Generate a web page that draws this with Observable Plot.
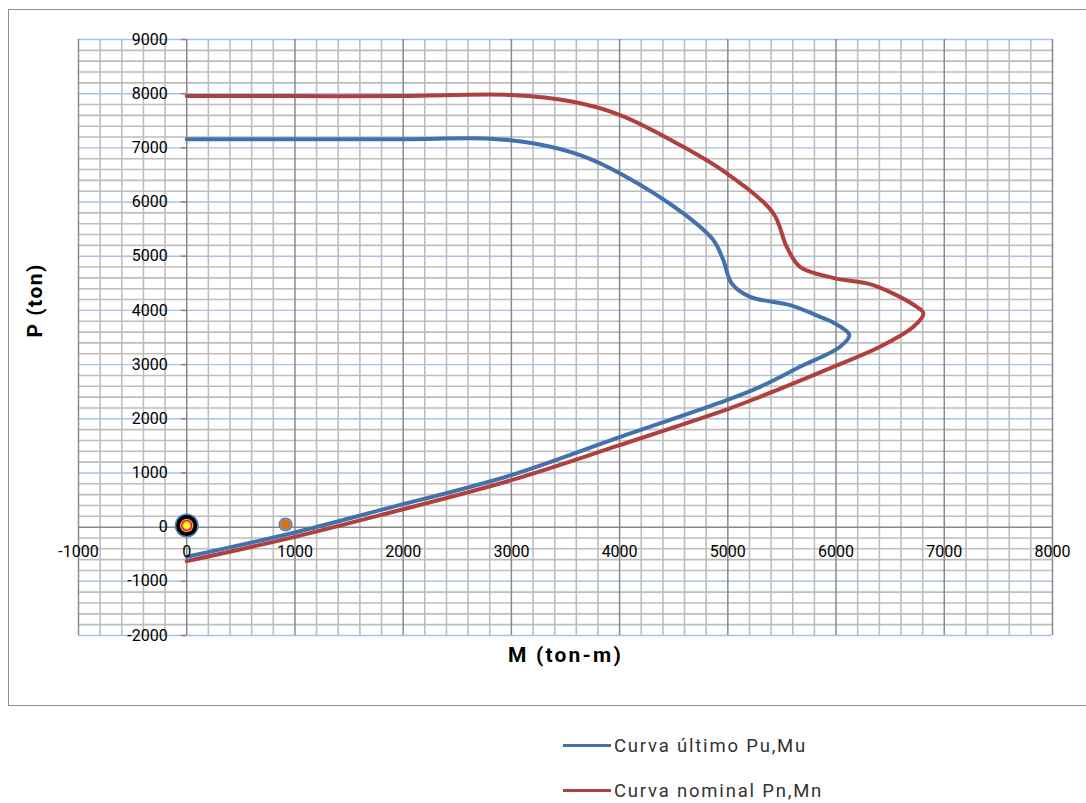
<!DOCTYPE html>
<html>
<head>
<meta charset="utf-8">
<script src="https://cdn.jsdelivr.net/npm/d3@7"></script>
<script src="https://cdn.jsdelivr.net/npm/@observablehq/plot@0.6"></script>
<style>
  html, body { margin: 0; padding: 0; background: #fff; overflow: hidden; }
  #wrap { position: relative; width: 1086px; height: 803px; font-family: "Roboto", sans-serif; }
  #border { position: absolute; left: 8px; top: 9px; width: 1100px; height: 697px; border: 1.5px solid #8e8e8e; box-sizing: border-box; pointer-events: none; }
  #chart { position: absolute; left: 0; top: 0; }
  #legend { position: absolute; left: 563px; top: 723px; }
  .item { display: flex; align-items: center; height: 45px; }
  .swatch { width: 48px; height: 3px; margin-right: 3px; }
  .label { font-size: 18.5px; color: #333; letter-spacing: 1.8px; white-space: nowrap; }
</style>
</head>
<body>
<div id="wrap">
  <div id="border"></div>
  <div id="chart"></div>
  <div id="legend"></div>
</div>
<script>
// ---- data ----
const seriesNames = ["Curva último Pu,Mu", "Curva nominal Pn,Mn"];
const seriesColors = ["#4271ab", "#b0403d"];

// Curva último (Mu, Pu)
const ultimoM = [0, 1000, 2000, 2800, 3200, 3635, 4005, 4589, 4866, 4958, 5036, 5206, 5575, 5852, 6006, 6123, 6037, 5667, 5297, 4990, 4000, 3000, 1787, 1000, 0];
const ultimoP = [7160, 7160, 7160, 7170, 7085, 6866, 6528, 5790, 5297, 4928, 4498, 4251, 4097, 3881, 3740, 3544, 3328, 2959, 2590, 2344, 1661, 960, 314, -98, -548];

// Curva nominal (Mn, Pn)
const nominalM = [0, 1000, 2000, 2990, 3570, 4005, 4560, 4990, 5419, 5544, 5667, 5973, 6343, 6745, 6807, 6714, 6406, 5975, 5297, 5000, 4000, 3000, 1787, 1000, 0];
const nominalP = [7955, 7955, 7955, 7975, 7850, 7604, 7050, 6528, 5795, 5173, 4804, 4600, 4467, 4066, 3944, 3697, 3328, 2959, 2405, 2178, 1513, 867, 221, -179, -628];

// load points (M, P)
const loadM = [0, 913];
const loadP = [30, 50];

const xTicks = [-1000, 0, 1000, 2000, 3000, 4000, 5000, 6000, 7000, 8000];
const yTicks = [-2000, -1000, 0, 1000, 2000, 3000, 4000, 5000, 6000, 7000, 8000, 9000];
const minorStep = 200;

// ---- build ----
const ultimo = ultimoM.map((m, i) => ({M: m, P: ultimoP[i]}));
const nominal = nominalM.map((m, i) => ({M: m, P: nominalP[i]}));
const loads = loadM.map((m, i) => ({M: m, P: loadP[i]}));
const xMinor = d3.range(-1000, 8000 + 1, minorStep).filter(v => v % 1000 !== 0);
const yMinor = d3.range(-2000, 9000 + 1, minorStep).filter(v => v % 1000 !== 0);
const xMajor = xTicks.filter(v => v !== 0);
const yMajor = yTicks.filter(v => v !== 0);
const font = '"Roboto", sans-serif';

const chart = Plot.plot({
  width: 1086,
  height: 710,
  marginLeft: 78,
  marginRight: 34,
  marginTop: 39,
  marginBottom: 75,
  x: {domain: [-1000, 8000], axis: null},
  y: {domain: [-2000, 9000], axis: null},
  style: {fontFamily: font, background: "transparent"},
  marks: [
    Plot.ruleX(xMinor, {x: d => d, y1: -2000, y2: 9000, stroke: "#bdbdbd", strokeWidth: 1.6}),
    Plot.ruleY(yMinor, {y: d => d, x1: -1000, x2: 8000, stroke: "#bdbdbd", strokeWidth: 1.6}),
    Plot.ruleY(yMajor, {y: d => d, x1: -1000, x2: 8000, stroke: "#a8c1e8", strokeWidth: 1.4}),
    Plot.ruleX(xMajor, {x: d => d, y1: -2000, y2: 9000, stroke: "#8a8a8a", strokeWidth: 1.5}),
    Plot.ruleY([0], {x1: -1000, x2: 8000, stroke: "#878787", strokeWidth: 1.5}),
    Plot.ruleX([0], {y1: -2000, y2: 9000, stroke: "#878787", strokeWidth: 1.5}),
    Plot.ruleY(yTicks, {y: d => d, x1: -50, x2: 0, stroke: "#878787", strokeWidth: 1.5}),
    Plot.line(nominal, {x: "M", y: "P", stroke: seriesColors[1], strokeWidth: 4, curve: "catmull-rom"}),
    Plot.line(ultimo, {x: "M", y: "P", stroke: seriesColors[0], strokeWidth: 4, curve: "catmull-rom"}),
    // stacked load-case markers at the origin
    Plot.dot(loads.slice(0, 1), {x: "M", y: "P", r: 12, fill: "#4f81bd", stroke: "none"}),
    Plot.dot(loads.slice(0, 1), {x: "M", y: "P", r: 10.5, fill: "#000000", stroke: "none"}),
    Plot.dot(loads.slice(0, 1), {x: "M", y: "P", r: 6.8, fill: "#f79646", stroke: "none"}),
    Plot.dot(loads.slice(0, 1), {x: "M", y: "P", r: 5.4, fill: "#ff0000", stroke: "none"}),
    Plot.dot(loads.slice(0, 1), {x: "M", y: "P", r: 4.4, fill: "#b3a2c7", stroke: "none"}),
    Plot.dot(loads.slice(0, 1), {x: "M", y: "P", r: 3.3, fill: "#ffff00", stroke: "none"}),
    // second load point
    Plot.dot(loads.slice(1), {x: "M", y: "P", r: 7, fill: "#8064a2", stroke: "none"}),
    Plot.dot(loads.slice(1), {x: "M", y: "P", r: 6, fill: "#4bacc6", stroke: "none"}),
    Plot.dot(loads.slice(1), {x: "M", y: "P", r: 4.8, fill: "#e46c0a", stroke: "none"}),
    // tick labels
    Plot.text(yTicks, {x: 0, y: d => d, text: d => String(d), dx: -19, textAnchor: "end", fontSize: 16, fill: "#000"}),
    Plot.text(xTicks, {x: d => d, y: 0, text: d => String(d), dy: 25, textAnchor: "middle", fontSize: 16, fill: "#000"}),
    // axis titles
    Plot.text(["P (ton)"], {frameAnchor: "left", dx: -43, rotate: -90, fontSize: 21, fontWeight: "bold", fill: "#000"}),
    Plot.text(["M (ton-m)"], {frameAnchor: "bottom", dy: 26, fontSize: 21, fontWeight: "bold", fill: "#000"})
  ]
});
document.getElementById("chart").appendChild(chart);
chart.querySelectorAll("text").forEach(t => {
  if (t.textContent === "P (ton)") t.style.letterSpacing = "1.5px";
  if (t.textContent === "M (ton-m)") t.style.letterSpacing = "2.2px";
});

const legend = document.getElementById("legend");
seriesNames.forEach((name, i) => {
  const item = document.createElement("div");
  item.className = "item";
  const sw = document.createElement("div");
  sw.className = "swatch";
  sw.style.background = seriesColors[i];
  const lb = document.createElement("span");
  lb.className = "label";
  lb.textContent = name;
  item.appendChild(sw);
  item.appendChild(lb);
  legend.appendChild(item);
});
</script>
</body>
</html>
